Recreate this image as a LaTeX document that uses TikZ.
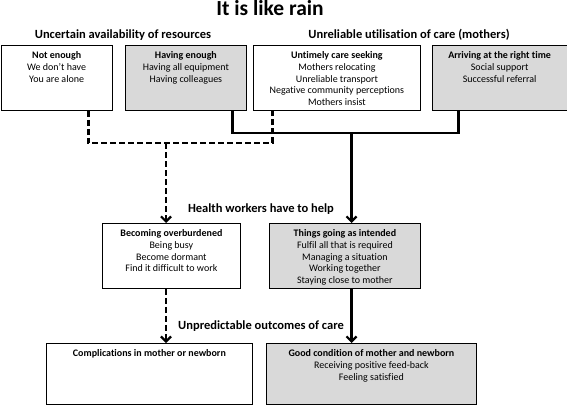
\documentclass[tikz,border=0pt]{standalone}
\usepackage{fontspec}
\setmainfont{Carlito}[Ligatures={TeX,NoCommon}]
\usetikzlibrary{arrows.meta}
\definecolor{boxgray}{HTML}{D9D9D9}
\newcommand\bxt[3]{\parbox[c][#2][t]{#1}{\centering\fontsize{10}{11.6}\selectfont\rule{0pt}{13.5pt}#3}}
\begin{document}
\begin{tikzpicture}[x=1pt,y=-1pt,
  box/.style={draw, line width=0.8pt, inner sep=0pt, anchor=north west},
  graybox/.style={box, fill=boxgray},
  hdr/.style={font=\bfseries\fontsize{12.5}{14}\selectfont, anchor=base, inner sep=0pt},
  conn/.style={line width=2.4pt},
  dconn/.style={line width=2.4pt, dash pattern=on 6pt off 3pt},
  tip/.style={-{Straight Barb[length=5pt,width=10pt,line width=2.2pt]}}
]
\useasboundingbox (0,0) rectangle (567,404);
\node[font=\bfseries\fontsize{21.5}{24}\selectfont, anchor=base, inner sep=0pt] (title) at (270,16) {It is like rain};
\node[hdr] (h1) at (123,38) {Uncertain availability of resources};
\node[hdr] (h2) at (409,38) {Unreliable utilisation of care (mothers)};

\node[box] (ne) at (0.5,45) {\bxt{111.5pt}{65pt}{\textbf{Not enough}\\We don't have\\You are alone}};
\node[graybox] (he) at (125,45) {\bxt{121pt}{65pt}{\textbf{Having enough}\\Having all equipment\\Having colleagues}};
\node[box] (ut) at (253,45) {\bxt{167pt}{65pt}{\textbf{Untimely care seeking}\\Mothers relocating\\Unreliable transport\\Negative community perceptions\\Mothers insist}};
\node[graybox] (ar) at (432,45) {\bxt{134.5pt}{65pt}{\textbf{Arriving at the right time}\\Social support\\Successful referral}};

\node[hdr] (l1) at (261,212) {Health workers have to help};
\node[box] (bo) at (102,223) {\bxt{138pt}{65pt}{\textbf{Becoming overburdened}\\Being busy\\Become dormant\\Find it difficult to work}};
\node[graybox] (tg) at (269,223) {\bxt{151pt}{65pt}{\textbf{Things going as intended}\\Fulfil all that is required\\Managing a situation\\Working together\\Staying close to mother}};

\node[hdr] (l2) at (261,329) {Unpredictable outcomes of care};
\node[box] (co) at (46,343) {\bxt{206pt}{60.5pt}{\textbf{Complications in mother or newborn}}};
\node[graybox] (gc) at (266,343) {\bxt{210pt}{60.5pt}{\textbf{Good condition of mother and newborn}\\Receiving positive feed-back\\Feeling satisfied}};

\coordinate (dj) at (166,143);
\coordinate (sj) at (351.5,133);
\draw[dconn] ([xshift=31.75pt]ne.south) |- (dj) -| ([xshift=-64.5pt]ut.south);
\draw[dconn, tip] (dj) -- (dj |- bo.north);
\draw[conn] ([xshift=46.5pt]he.south) |- (sj) -| ([xshift=-41.25pt]ar.south);
\draw[conn, tip] (sj) -- (sj |- tg.north);
\draw[dconn, tip] (dj |- bo.south) -- (dj |- co.north);
\draw[conn, tip] (sj |- tg.south) -- (sj |- gc.north);
\end{tikzpicture}
\end{document}
